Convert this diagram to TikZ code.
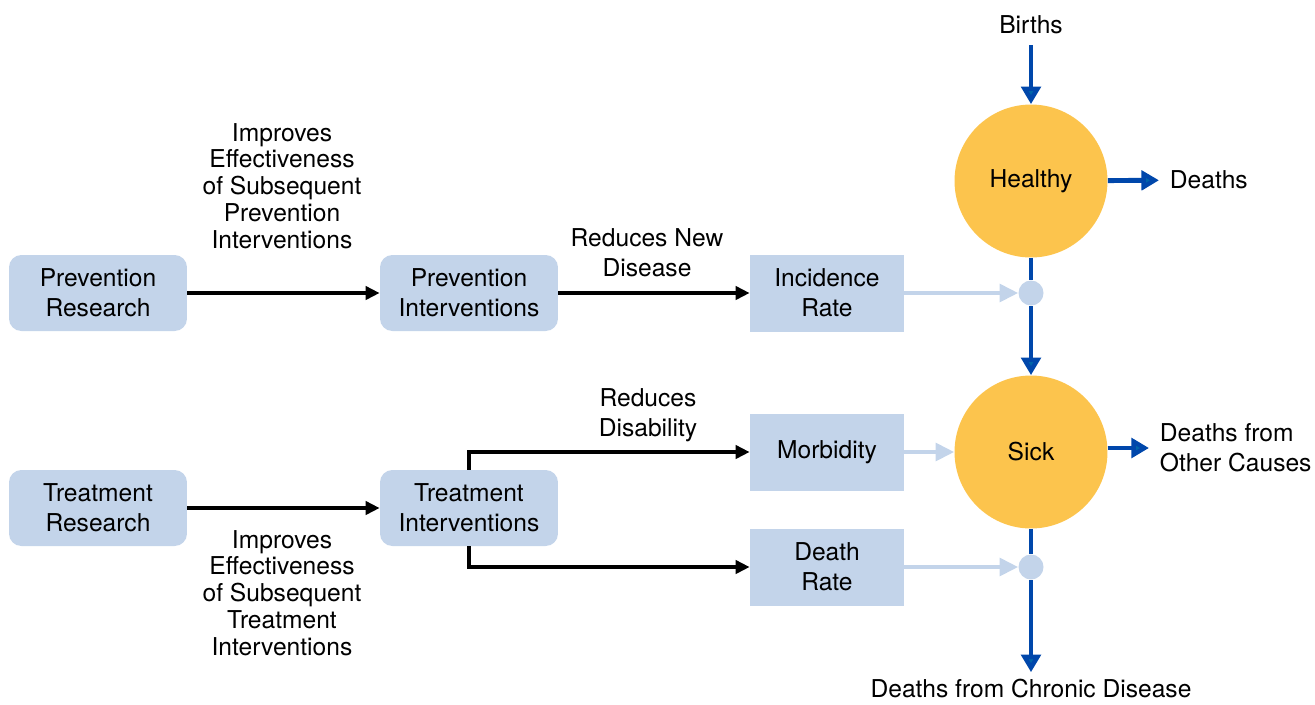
\documentclass[tikz,border=0pt]{standalone}
\usepackage{fontspec}
\setmainfont{TeX Gyre Heros}
\usetikzlibrary{arrows.meta, positioning}
\definecolor{boxblue}{HTML}{C3D4EA}
\definecolor{stockyellow}{HTML}{FCC44D}
\definecolor{flowblue}{HTML}{0047AB}
\definecolor{tipblue}{HTML}{0065A9}
\tikzset{
  box/.style={rectangle, fill=boxblue, rounded corners=7pt, minimum width=3.56cm, minimum height=1.52cm, align=center, font=\fontsize{14}{17}\selectfont},
  ratebox/.style={rectangle, fill=boxblue, minimum width=3.08cm, minimum height=1.54cm, align=center, font=\fontsize{14}{17}\selectfont},
  stock/.style={circle, fill=stockyellow, minimum size=3.06cm, inner sep=0, font=\fontsize{14}{17}\selectfont},
  junction/.style={circle, fill=boxblue, minimum size=0.5cm, inner sep=0},
  lbl/.style={align=center, inner sep=6pt, font=\fontsize{14}{17}\selectfont},
  longlbl/.style={align=center, font=\fontsize{14}{15.3}\selectfont},
  link/.style={-{Triangle[length=8pt, width=7.5pt]}, line width=2.5pt},
  flow/.style={draw=flowblue, line width=2.8pt, -{Triangle[length=10pt, width=11pt, fill=tipblue]}},
  pipe/.style={draw=flowblue, line width=2.8pt},
  effect/.style={draw=boxblue, line width=2.2pt, -{Triangle[length=10.5pt, width=10pt]}}
}

\begin{document}
\begin{tikzpicture}[x=0.02cm, y=-0.02cm]
  \useasboundingbox (0,0) rectangle (1315,704);

  % Nodes
  \node[box] (prevres)  at (98,293)  {Prevention\\Research};
  \node[box] (prevint)  at (469,293) {Prevention\\Interventions};
  \node[box] (treatres) at (98,508)  {Treatment\\Research};
  \node[box] (treatint) at (469,508) {Treatment\\Interventions};

  \node[ratebox] (incid)   at (827,293) {Incidence\\Rate};
  \node[ratebox] (morb)    at (827,452) {Morbidity};
  \node[ratebox] (deathrt) at (827,567) {Death\\Rate};

  \node[stock] (healthy) at (1031,181) {Healthy};
  \node[stock] (sick)    at (1031,452) {Sick};
  \node[junction] (dot1) at (1031,293) {};
  \node[junction] (dot2) at (1031,567) {};

  \node[lbl] (births)  at (1031,25)  {Births};
  \node[lbl, anchor=west] (deaths) at (1159,180) {Deaths};
  \node[lbl, anchor=west, align=left] (other) at (1149,448) {Deaths from\\Other Causes};
  \node[lbl, inner sep=4pt] (chronic) at (1031,689) {Deaths from Chronic Disease};

  \node[longlbl] (prevlbl)  at (282,186) {Improves\\Effectiveness\\of Subsequent\\Prevention\\Interventions};
  \node[longlbl] (treatlbl) at (282,593) {Improves\\Effectiveness\\of Subsequent\\Treatment\\Interventions};
  \node[lbl] (newlbl) at (647,253) {Reduces New\\Disease};
  \node[lbl] (dislbl) at (648,415) {Reduces\\Disability};

  % Arrows
  \draw[link] (prevres) -- (prevint);
  \draw[link] (prevint) -- (incid);
  \draw[link] (treatres) -- (treatint);
  \draw[link] (treatint.north) |- (morb);
  \draw[link] (treatint.south) |- (deathrt);

  \draw[effect] (incid) -- (dot1);
  \draw[effect] (morb) -- (sick);
  \draw[effect] (deathrt) -- (dot2);

  \draw[flow] (births) -- (healthy);
  \draw[pipe] (healthy) -- (dot1);
  \draw[flow] (dot1) -- (sick);
  \draw[flow] (healthy) -- (deaths);
  \draw[flow] (sick.east |- other.west) -- (other.west);
  \draw[pipe] (sick) -- (dot2);
  \draw[flow] (dot2) -- (chronic);
\end{tikzpicture}
\end{document}
